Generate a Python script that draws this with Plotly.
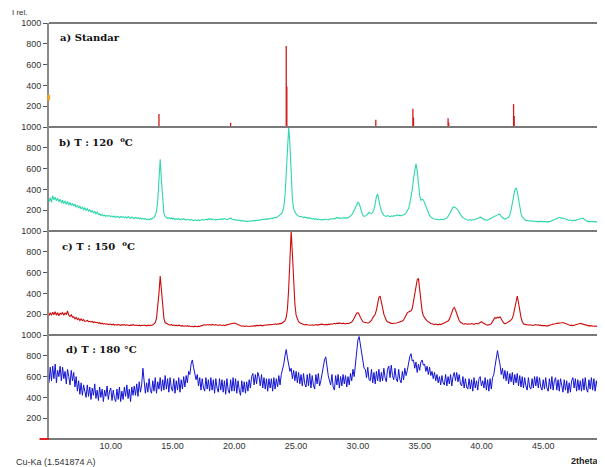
import plotly.graph_objects as go
from plotly.subplots import make_subplots

# 2theta grid (degrees), 0.1 deg sampling from 5.0 to 50.0
theta_start = 5.0
theta_step = 0.1

# a) Standard reference sticks
std_pos = [13.9, 19.7, 22.0, 24.2, 24.25, 31.45, 34.45, 34.5, 37.3, 37.35, 40.1, 42.6, 42.65, 45.0, 47.4, 49.6]
std_int = [125, 40, 8, 780, 390, 70, 175, 90, 85, 40, 10, 220, 105, 10, 10, 30]

# b) T : 120 C  (rows of 10 points = 1 degree)
int_120 = [
    280, 320, 275, 340, 300, 325, 290, 315, 280, 305,
    270, 295, 265, 290, 255, 285, 250, 275, 245, 265,
    240, 258, 228, 248, 220, 240, 212, 230, 205, 222,
    198, 215, 190, 205, 180, 198, 172, 190, 165, 182,
    158, 165, 150, 158, 145, 152, 140, 150, 142, 148,
    138, 145, 135, 142, 130, 140, 136, 128, 140, 132,
    138, 128, 135, 125, 140, 130, 122, 135, 128, 120,
    130, 122, 128, 118, 125, 115, 122, 112, 120, 110,
    115, 108, 118, 112, 125, 130, 150, 190, 290, 480,
    690, 480, 260, 170, 140, 130, 122, 128, 118, 125,
    115, 122, 110, 118, 112, 120, 108, 115, 110, 118,
    112, 105, 115, 108, 102, 112, 105, 98, 108, 102,
    100, 108, 98, 105, 112, 104, 110, 115, 108, 118,
    112, 118, 108, 115, 110, 105, 112, 108, 115, 110,
    118, 112, 120, 115, 108, 112, 118, 125, 115, 110,
    112, 105, 108, 100, 105, 98, 102, 95, 100, 92,
    95, 90, 98, 92, 100, 95, 102, 98, 105, 100,
    108, 102, 112, 108, 115, 110, 118, 112, 120, 118,
    125, 120, 128, 132, 128, 138, 142, 150, 165, 185,
    230, 330, 520, 820, 1000, 830, 520, 310, 210, 180,
    165, 150, 145, 138, 142, 132, 128, 135, 125, 128,
    122, 128, 118, 115, 120, 112, 118, 110, 115, 108,
    110, 105, 112, 108, 115, 110, 106, 112, 118, 115,
    120, 115, 125, 130, 122, 128, 120, 125, 130, 128,
    122, 128, 125, 135, 140, 155, 175, 200, 235, 260,
    275, 265, 230, 185, 150, 140, 145, 150, 165, 180,
    170, 168, 180, 205, 260, 330, 355, 310, 240, 190,
    165, 150, 145, 140, 148, 142, 138, 145, 140, 148,
    145, 150, 155, 148, 152, 145, 150, 148, 160, 175,
    190, 215, 260, 320, 400, 500, 600, 645, 580, 450,
    340, 295, 305, 300, 270, 235, 200, 170, 150, 135,
    125, 118, 115, 110, 112, 108, 110, 105, 112, 108,
    112, 118, 125, 140, 160, 185, 210, 228, 232, 225,
    215, 200, 175, 155, 140, 128, 118, 112, 108, 105,
    105, 108, 102, 110, 106, 112, 115, 120, 125, 135,
    128, 118, 112, 105, 108, 104, 110, 115, 122, 130,
    138, 142, 148, 155, 162, 158, 140, 128, 120, 115,
    118, 125, 132, 155, 200, 270, 340, 395, 415, 380,
    310, 230, 170, 135, 120, 110, 102, 98, 100, 96,
    95, 98, 92, 96, 90, 94, 92, 88, 95, 90,
    92, 88, 90, 86, 92, 88, 94, 98, 102, 108,
    112, 118, 125, 132, 128, 122, 125, 118, 112, 108,
    105, 102, 108, 100, 98, 104, 100, 108, 112, 118,
    122, 128, 125, 115, 105, 95, 90, 92, 88, 94,
    90, 88, 92, 86, 90, 88, 85, 90, 88, 92,
    95,
]

# c) T : 150 C
int_150 = [
    185, 215, 190, 220, 195, 225, 190, 215, 185, 210,
    200, 215, 190, 212, 195, 232, 190, 178, 195, 170,
    175, 155, 168, 148, 160, 140, 155, 138, 148, 132,
    135, 140, 128, 132, 125, 130, 120, 126, 118, 122,
    112, 118, 108, 114, 105, 110, 104, 108, 100, 106,
    102, 98, 105, 96, 100, 94, 102, 97, 92, 99,
    95, 100, 92, 98, 94, 90, 97, 93, 99, 95,
    92, 96, 90, 95, 88, 94, 91, 96, 92, 88,
    94, 90, 96, 92, 98, 105, 118, 160, 260, 400,
    567, 430, 260, 160, 120, 110, 102, 98, 95, 100,
    92, 96, 90, 94, 88, 95, 92, 86, 90, 85,
    88, 84, 90, 82, 86, 80, 84, 78, 85, 82,
    80, 85, 82, 88, 92, 95, 98, 94, 100, 96,
    100, 95, 102, 98, 94, 100, 96, 92, 98, 94,
    92, 96, 90, 95, 98, 94, 100, 104, 108, 110,
    115, 110, 104, 98, 92, 88, 85, 88, 82, 86,
    84, 80, 85, 82, 88, 84, 90, 86, 92, 88,
    90, 95, 92, 88, 94, 96, 92, 98, 95, 100,
    98, 102, 100, 105, 102, 108, 105, 112, 110, 118,
    120, 135, 170, 250, 450, 740, 1000, 780, 520, 300,
    190, 150, 128, 118, 110, 105, 100, 96, 102, 98,
    96, 100, 94, 98, 92, 96, 100, 95, 98, 102,
    98, 104, 100, 96, 102, 98, 104, 100, 108, 104,
    108, 112, 106, 114, 110, 116, 112, 108, 114, 110,
    106, 112, 108, 114, 118, 125, 140, 165, 190, 210,
    215, 200, 170, 140, 128, 122, 118, 120, 115, 118,
    125, 140, 165, 185, 200, 240, 300, 360, 375, 330,
    260, 200, 165, 140, 128, 120, 115, 112, 110, 114,
    112, 115, 118, 122, 125, 130, 135, 145, 170, 200,
    212, 222, 226, 232, 255, 330, 410, 480, 530, 545,
    430, 310, 230, 185, 160, 150, 135, 125, 115, 110,
    108, 104, 100, 106, 102, 98, 104, 100, 106, 110,
    115, 122, 130, 135, 150, 175, 215, 250, 265, 240,
    200, 170, 140, 122, 112, 108, 105, 110, 106, 102,
    108, 104, 110, 106, 102, 108, 112, 106, 115, 125,
    128, 118, 110, 102, 98, 95, 96, 100, 110, 125,
    150, 168, 160, 172, 165, 175, 160, 135, 115, 108,
    112, 118, 125, 135, 145, 160, 200, 270, 340, 375,
    310, 215, 170, 130, 108, 102, 98, 100, 96, 98,
    95, 98, 92, 96, 100, 94, 98, 92, 95, 90,
    92, 88, 90, 86, 88, 92, 96, 100, 105, 110,
    108, 112, 115, 118, 122, 118, 120, 115, 108, 102,
    98, 95, 92, 95, 90, 94, 96, 100, 104, 108,
    112, 108, 110, 104, 98, 94, 92, 88, 90, 86,
    88, 84, 86, 82, 84, 80, 83, 86, 82, 85,
    84,
]

# d) T : 180 C
int_180 = [
    540, 690, 560, 700, 580, 720, 540, 660, 600, 700,
    560, 690, 580, 650, 530, 670, 600, 520, 660, 560,
    640, 500, 600, 460, 560, 430, 540, 420, 520, 440,
    400, 520, 410, 500, 380, 490, 420, 530, 390, 470,
    370, 500, 400, 480, 360, 470, 410, 510, 380, 460,
    490, 370, 470, 390, 360, 480, 380, 500, 360, 460,
    380, 500, 410, 520, 390, 480, 360, 500, 420, 510,
    420, 530, 410, 550, 450, 520, 680, 560, 440, 540,
    450, 580, 470, 440, 560, 460, 590, 440, 550, 480,
    590, 460, 570, 470, 610, 480, 580, 450, 590, 490,
    460, 580, 440, 560, 470, 590, 450, 570, 480, 600,
    500, 610, 540, 650, 620, 720, 760, 690, 630, 570,
    620, 510, 590, 470, 580, 490, 460, 590, 480, 570,
    460, 590, 470, 570, 440, 580, 490, 450, 580, 470,
    570, 450, 560, 430, 580, 470, 440, 570, 460, 590,
    460, 580, 440, 560, 470, 420, 560, 450, 550, 440,
    550, 460, 570, 490, 600, 630, 520, 620, 530, 640,
    600, 510, 620, 490, 590, 480, 580, 460, 580, 490,
    580, 460, 590, 480, 580, 500, 610, 520, 620, 660,
    720, 800, 860, 780, 730, 650, 680, 580, 660, 560,
    650, 540, 640, 530, 620, 510, 630, 530, 500, 620,
    510, 630, 490, 610, 520, 480, 620, 530, 630, 510,
    560, 640, 700, 760, 790, 680, 610, 560, 520, 620,
    500, 470, 610, 520, 620, 490, 600, 510, 620, 530,
    610, 500, 600, 520, 630, 560, 670, 600, 740, 840,
    950, 985, 910, 820, 780, 680, 670, 590, 690, 570,
    560, 670, 540, 640, 530, 650, 560, 670, 550, 640,
    560, 680, 590, 550, 670, 700, 590, 710, 610, 570,
    680, 580, 550, 670, 570, 540, 650, 570, 680, 610,
    660, 740, 790, 820, 750, 760, 680, 740, 640, 720,
    660, 740, 760, 710, 720, 650, 700, 620, 690, 610,
    650, 580, 640, 560, 620, 540, 600, 520, 610, 540,
    520, 620, 510, 600, 530, 620, 510, 600, 640, 560,
    640, 550, 620, 530, 510, 600, 490, 580, 500, 480,
    580, 480, 570, 460, 590, 490, 560, 470, 580, 600,
    510, 560, 490, 590, 470, 570, 460, 580, 480, 590,
    620, 700, 790, 850, 780, 720, 620, 680, 580, 660,
    560, 650, 530, 630, 550, 640, 520, 620, 540, 630,
    510, 610, 500, 600, 490, 590, 510, 470, 590, 500,
    480, 580, 490, 600, 510, 600, 490, 590, 500, 470,
    570, 480, 590, 490, 460, 580, 480, 600, 470, 560,
    590, 470, 570, 460, 580, 490, 450, 570, 470, 560,
    440, 540, 450, 560, 590, 490, 580, 460, 570, 470,
    560, 460, 580, 470, 590, 480, 450, 570, 480, 590,
    470, 580, 460, 560, 480, 590, 450, 560, 470, 550,
    480,
]

panel_titles = ["a) Standar", "b) T : 120  <sup>o</sup>C", "c) T : 150  <sup>o</sup>C", "d) T : 180 °C"]
y_ticks = [200, 400, 600, 800, 1000]
x_ticks = [10, 15, 20, 25, 30, 35, 40, 45]
x_ticktext = ["10.00", "15.00", "20.00", "25.00", "30.00", "35.00", "40.00", "45.00"]

def grid(n):
    return [round(theta_start + i * theta_step, 1) for i in range(n)]

for arr in (int_120, int_150, int_180):
    assert len(arr) == 451, len(arr)

fig = make_subplots(rows=4, cols=1, shared_xaxes=True, vertical_spacing=0)

# sticks for standard
sx, sy = [], []
for p, h in zip(std_pos, std_int):
    sx += [p, p, None]
    sy += [0, h, None]
fig.add_trace(go.Scatter(x=sx, y=sy, mode="lines", line=dict(color="#d21a1a", width=1.3),
                         hoverinfo="skip", showlegend=False), row=1, col=1)
fig.add_trace(go.Scatter(x=grid(451), y=int_120, mode="lines",
                         line=dict(color="#2fd6ae", width=1.1), showlegend=False), row=2, col=1)
fig.add_trace(go.Scatter(x=grid(451), y=int_150, mode="lines",
                         line=dict(color="#cc0c0c", width=1.1), showlegend=False), row=3, col=1)
fig.add_trace(go.Scatter(x=grid(451), y=int_180, mode="lines",
                         line=dict(color="#1414d2", width=1), showlegend=False), row=4, col=1)

axis_font = dict(family="Liberation Sans, Arial, sans-serif", size=9, color="#333333")
for r in range(1, 5):
    fig.update_yaxes(range=[0, 1000], tickvals=y_ticks, ticktext=[str(v) for v in y_ticks],
                     ticks="outside", ticklen=4, tickcolor="#555555", tickwidth=1,
                     showgrid=False, zeroline=False, showline=True, linecolor="#8a8a8a",
                     linewidth=2, tickfont=axis_font, row=r, col=1)
    fig.update_xaxes(range=[5, 50], showgrid=False, zeroline=False, showline=False,
                     ticks="", showticklabels=(r == 4), row=r, col=1)
fig.update_xaxes(tickvals=x_ticks, ticktext=x_ticktext, tickfont=axis_font, row=4, col=1)

shapes = []
for yb in [0, 0.25, 0.5, 0.75, 1.0]:
    shapes.append(dict(type="line", xref="paper", yref="paper", x0=0, x1=1, y0=yb, y1=yb,
                       line=dict(color="#7a7a7a", width=2)))
# instrument markers
shapes.append(dict(type="line", xref="paper", yref="paper", x0=-0.017, x1=0.0, y0=0, y1=0,
                   line=dict(color="#e02020", width=2)))
shapes.append(dict(type="rect", xref="paper", yref="paper", x0=-0.003, x1=0.002,
                   y0=0.75 + 0.25 * 0.255, y1=0.75 + 0.25 * 0.31,
                   fillcolor="#f5a623", line=dict(width=0)))

title_font = dict(family="DejaVu Serif, serif", size=10, color="#111111")
annotations = []
title_x = [58, 57, 60, 64]
for i, t in enumerate(panel_titles):
    top = 1.0 - 0.25 * i
    annotations.append(dict(text="<b>" + t + "</b>", xref="paper", yref="paper",
                            x=(title_x[i] - 49) / 556, y=top - 0.034, xanchor="left",
                            yanchor="middle", showarrow=False, font=title_font))
annotations.append(dict(text="I rel.", xref="paper", yref="paper", x=-0.07, y=1.025,
                        xanchor="left", yanchor="middle", showarrow=False,
                        font=dict(family="Liberation Sans, Arial", size=8, color="#333333")))
annotations.append(dict(text="Cu-Ka (1.541874 A)", xref="paper", yref="paper", x=-0.063, y=-0.055,
                        xanchor="left", yanchor="middle", showarrow=False,
                        font=dict(family="Liberation Sans, Arial", size=9, color="#333333")))
annotations.append(dict(text="<b>2theta</b>", xref="paper", yref="paper", x=0.935, y=-0.053,
                        xanchor="left", yanchor="middle", showarrow=False,
                        font=dict(family="Liberation Sans, Arial", size=9, color="#222222")))

# page body adds an 8px offset; size the figure so the plot area lands where the reference has it
fig.update_layout(width=597, height=459, margin=dict(l=41, r=0, t=15, b=28),
                  paper_bgcolor="white", plot_bgcolor="white",
                  shapes=shapes, annotations=annotations, showlegend=False)

fig.write_html("out.html")
